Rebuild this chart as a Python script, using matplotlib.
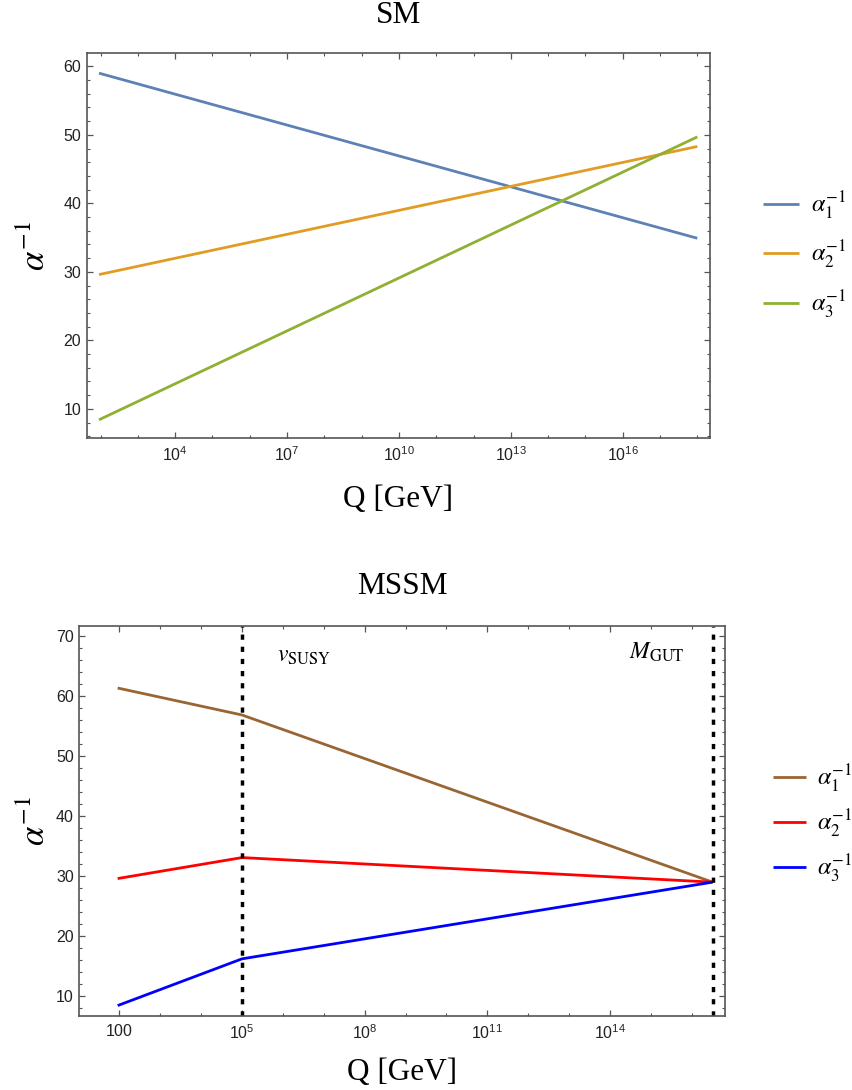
import matplotlib
matplotlib.use("Agg")
import numpy as np
import matplotlib.pyplot as plt
from matplotlib.ticker import FixedLocator, MultipleLocator, FuncFormatter
from matplotlib.font_manager import FontProperties

# one-loop running of the inverse gauge couplings (values read at the kinks)
sm_q = [91.19, 1e18]
sm_a1 = [59.0, 34.9]
sm_a2 = [29.6, 48.3]
sm_a3 = [8.4, 49.7]

mssm_q = [91.19, 1e5, 3.2e16]
mssm_a1 = [61.4, 56.9, 29.0]
mssm_a2 = [29.6, 33.1, 29.0]
mssm_a3 = [8.4, 16.2, 29.0]

v_susy = 1e5
m_gut = 3.2e16

sm_labels = [r"$\alpha_1^{-1}$", r"$\alpha_2^{-1}$", r"$\alpha_3^{-1}$"]
sm_colors = ["#5E81B5", "#E19C24", "#8FB032"]
mssm_colors = ["#996633", "#FF0000", "#0000FF"]

plt.rcParams["font.family"] = ["Liberation Sans", "DejaVu Sans"]
plt.rcParams["mathtext.fontset"] = "custom"
plt.rcParams["mathtext.rm"] = "Liberation Sans"
plt.rcParams["mathtext.it"] = "Liberation Sans:italic"

serif = "Liberation Serif"
frame_col = "#555555"


def pow10(x, pos):
    e = int(round(np.log10(x)))
    if e == 2:
        return r"$\mathregular{100}$"
    return r"$\mathregular{10^{%d}}$" % e


def style_axes(ax, majors, minors, ylim, xlim):
    ax.set_xscale("log")
    ax.set_xlim(*xlim)
    ax.set_ylim(*ylim)
    ax.xaxis.set_major_locator(FixedLocator(majors))
    ax.xaxis.set_minor_locator(FixedLocator(minors))
    ax.xaxis.set_major_formatter(FuncFormatter(pow10))
    ax.xaxis.set_minor_formatter(FuncFormatter(lambda x, p: ""))
    ax.yaxis.set_major_locator(MultipleLocator(10))
    ax.yaxis.set_minor_locator(MultipleLocator(2))
    ax.tick_params(which="both", direction="in", top=True, right=True,
                   color=frame_col, labelsize=11.5, labelcolor="#222222")
    ax.tick_params(which="major", length=4.5, width=0.9)
    ax.tick_params(which="minor", length=2.5, width=0.8)
    ax.tick_params(axis="x", which="major", pad=5)
    ax.tick_params(axis="y", which="major", pad=4)
    for s in ax.spines.values():
        s.set_color(frame_col)
        s.set_linewidth(1.2)


fig = plt.figure(figsize=(8.52, 10.9), dpi=100)
W, H = 852.0, 1090.0

# ---- SM ----
ax1 = fig.add_axes([86.7 / W, 1 - 438.3 / H, (710 - 86.7) / W, (438.3 - 53.3) / H])
for vals, c, lab in zip([sm_a1, sm_a2, sm_a3], sm_colors, sm_labels):
    ax1.plot(sm_q, vals, color=c, lw=2.0, label=lab, solid_capstyle="butt")
style_axes(ax1, [1e4, 1e7, 1e10, 1e13, 1e16], [10.0 ** k for k in range(2, 19)],
           (5.7, 61.9), (10 ** 1.63, 10 ** 18.34))

leg_font = FontProperties(family=serif, size=17.5, math_fontfamily="stix")
ax1.legend(loc="center left", bbox_to_anchor=(763 / W, 1 - 255.3 / H),
           bbox_transform=fig.transFigure, frameon=False, borderpad=0,
           borderaxespad=0, handlelength=1.5, handletextpad=0.47,
           labelspacing=0.72, prop=leg_font)

fig.text(398 / W, 1 - 23 / H, "SM", family=serif, size=22.5,
         ha="center", va="baseline")
fig.text(398 / W, 1 - 506.7 / H, "Q [GeV]", family=serif, size=22.5,
         ha="center", va="baseline")
fig.text(35 / W, 1 - 246 / H, r"$\alpha^{-1}$", size=25, rotation=90,
         ha="center", va="center", math_fontfamily="stix")

# ---- MSSM ----
ax2 = fig.add_axes([79.3 / W, 1 - 1016 / H, (725 - 79.3) / W, (1016 - 625.7) / H])
for vals, c, lab in zip([mssm_a1, mssm_a2, mssm_a3], mssm_colors, sm_labels):
    ax2.plot(mssm_q, vals, color=c, lw=2.0, label=lab, solid_capstyle="butt")
for xv in [v_susy, m_gut]:
    ax2.axvline(xv, color="black", lw=2.5, dashes=(1.5, 2.0))
style_axes(ax2, [1e2, 1e5, 1e8, 1e11, 1e14], [10.0 ** k for k in range(2, 17)],
           (6.66, 71.8), (10 ** 1.022, 10 ** 16.81))

ax2.legend(loc="center left", bbox_to_anchor=(773 / W, 1 - 824 / H),
           bbox_transform=fig.transFigure, frameon=False, borderpad=0,
           borderaxespad=0, handlelength=1.35, handletextpad=0.47,
           labelspacing=0.52, prop=leg_font)

ax2.text(0.3057, 0.9078, r"$v_{\mathrm{SUSY}}$", transform=ax2.transAxes,
         size=17, ha="left", va="baseline", math_fontfamily="stix")
ax2.text(0.8518, 0.9165, r"$M_{\mathrm{GUT}}$", transform=ax2.transAxes,
         size=17, ha="left", va="baseline", math_fontfamily="stix")

fig.text(402 / W, 1 - 594 / H, "MSSM", family=serif, size=22.5,
         ha="center", va="baseline")
fig.text(402 / W, 1 - 1080 / H, "Q [GeV]", family=serif, size=22.5,
         ha="center", va="baseline")
fig.text(35 / W, 1 - 821 / H, r"$\alpha^{-1}$", size=25, rotation=90,
         ha="center", va="center", math_fontfamily="stix")

fig.savefig("out.png", dpi=100)
